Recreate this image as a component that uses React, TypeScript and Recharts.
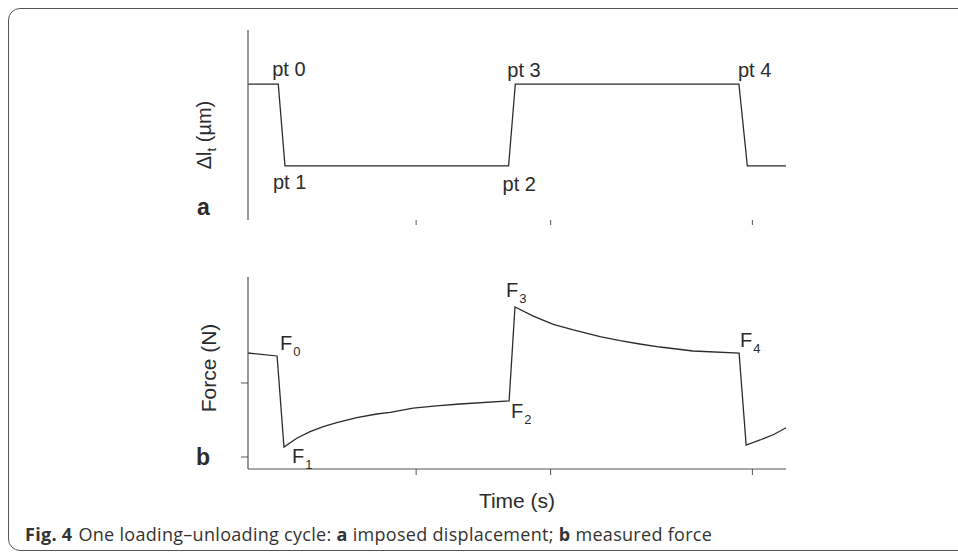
import React from "react";
import { LineChart, Line, XAxis, YAxis, LabelList, Label } from "recharts";

// time axis (s) and force axis ticks
const timeTicks = [10, 18, 30];
const forceTicks = [10, 20];

// panel a: imposed displacement
const dispTime = [0, 1.8, 2.2, 15.5, 15.9, 29.2, 29.7, 32];
const dispValue = [1, 1, 0, 0, 1, 1, 0, 0];
const dispLabels = [null, "pt 0", "pt 1", "pt 2", "pt 3", "pt 4", null, null];

// panel b: measured force
const forceTime = [
    0, 1.73, 2.14, 2.9, 3.69, 4.48, 5.28, 6.47, 7.66, 8.45, 9.82, 11.2, 12.61,
    15.53, 15.88, 17.0, 18.16, 19.35, 20.94, 22.13, 23.3, 24.51, 26.47, 29.21,
    29.63, 30.46, 31.3, 32,
];
const forceValue = [
    24.05, 23.65, 11.35, 12.53, 13.42, 14.09, 14.64, 15.31, 15.81, 16.04,
    16.6, 16.92, 17.16, 17.57, 30.27, 29.0, 27.93, 27.16, 26.26, 25.72, 25.27,
    24.86, 24.32, 24.05, 11.62, 12.3, 13.07, 13.96,
];
const forceLabels = [
    null, "0", "1", null, null, null, null, null, null, null, null, null, null,
    "2", "3", null, null, null, null, null, null, null, null, "4", null, null,
    null, null,
];

const dispData = dispTime.map((t, i) => ({
    t,
    d: dispValue[i],
    label: dispLabels[i],
}));
const forceData = forceTime.map((t, i) => ({
    t,
    f: forceValue[i],
    label: forceLabels[i],
}));

const FONT = "'Liberation Sans', Arial, sans-serif";
const INK = "#2b2b2b";
const AXIS = "#555";

const ptOffset: Record<string, [number, number]> = {
    "pt 0": [-6, -8],
    "pt 1": [-12, 23],
    "pt 2": [-6, 25],
    "pt 3": [-8, -7],
    "pt 4": [-1, -7],
};
const fOffset: Record<string, [number, number]> = {
    "0": [3, -6],
    "1": [8, 16],
    "2": [2, 17],
    "3": [-9, -10],
    "4": [1, -6],
};

// keeps the tick marks but draws no tick text
const NoTick = () => <g />;

const PtLabel = (props: any) => {
    const { x, y, value } = props;
    if (!value || !ptOffset[value]) return null;
    const [dx, dy] = ptOffset[value];
    return (
        <text x={x + dx} y={y + dy} fontSize={20} fontFamily={FONT} fill={INK}>
            {value}
        </text>
    );
};

const FLabel = (props: any) => {
    const { x, y, value } = props;
    if (value == null || !fOffset[value]) return null;
    const [dx, dy] = fOffset[value];
    return (
        <text x={x + dx} y={y + dy} fontSize={20} fontFamily={FONT} fill={INK}>
            F
            <tspan dx={1} dy={6} fontSize={13}>
                {value}
            </tspan>
        </text>
    );
};

const DispTitle = (props: any) => {
    const { x, y, width, height } = props.viewBox;
    const cx = x + width - 37;
    const cy = y + height / 2 + 10;
    return (
        <text
            x={cx}
            y={cy}
            transform={`rotate(-90 ${cx} ${cy})`}
            textAnchor="middle"
            fontSize={20}
            fontFamily={FONT}
            fill={INK}
        >
            Δl
            <tspan dy={5} fontSize={13}>
                t
            </tspan>
            <tspan dy={-5}> (µm)</tspan>
        </text>
    );
};

const ForceTitle = (props: any) => {
    const { x, y, width, height } = props.viewBox;
    const cx = x + width - 32;
    const cy = y + height / 2 - 5;
    return (
        <text
            x={cx}
            y={cy}
            transform={`rotate(-90 ${cx} ${cy})`}
            textAnchor="middle"
            fontSize={21}
            fontFamily={FONT}
            fill={INK}
        >
            Force (N)
        </text>
    );
};

const TimeTitle = (props: any) => {
    const { x, y, width } = props.viewBox;
    return (
        <text
            x={x + width / 2}
            y={y + 39}
            textAnchor="middle"
            fontSize={21}
            fontFamily={FONT}
            fill={INK}
        >
            Time (s)
        </text>
    );
};

export default function App() {
    return (
        <div
            style={{
                position: "absolute",
                left: 0,
                top: 0,
                width: 958,
                height: 552,
                overflow: "hidden",
                background: "#fff",
            }}
        >
            <div
                style={{
                    position: "absolute",
                    left: 8,
                    top: 8,
                    width: 1000,
                    height: 543,
                    boxSizing: "border-box",
                    border: "1.5px solid #555",
                    borderRadius: 12,
                }}
            />
            <div style={{ position: "absolute", left: 0, top: 0 }}>
                <LineChart
                    width={958}
                    height={260}
                    data={dispData}
                    margin={{ top: 30, right: 172, bottom: 10, left: 188 }}
                >
                    <XAxis
                        type="number"
                        dataKey="t"
                        domain={[0, 32]}
                        ticks={timeTicks}
                        axisLine={false}
                        tick={NoTick}
                        tickLine={{ stroke: AXIS }}
                        tickSize={5}
                        height={30}
                    />
                    <YAxis
                        type="number"
                        domain={[-0.66, 1.66]}
                        allowDataOverflow
                        axisLine={{ stroke: AXIS, strokeWidth: 1.2 }}
                        tick={false}
                        tickLine={false}
                        width={60}
                    >
                        <Label content={DispTitle} />
                    </YAxis>
                    <Line
                        type="linear"
                        dataKey="d"
                        stroke={INK}
                        strokeWidth={1.3}
                        dot={false}
                        isAnimationActive={false}
                    >
                        <LabelList dataKey="label" content={PtLabel} />
                    </Line>
                </LineChart>
            </div>
            <div style={{ position: "absolute", left: 0, top: 240 }}>
                <LineChart
                    width={958}
                    height={290}
                    data={forceData}
                    margin={{ top: 37, right: 172, bottom: 31, left: 188 }}
                >
                    <XAxis
                        type="number"
                        dataKey="t"
                        domain={[0, 32]}
                        ticks={timeTicks}
                        axisLine={{ stroke: AXIS, strokeWidth: 1.2 }}
                        tick={NoTick}
                        tickLine={{ stroke: AXIS }}
                        tickSize={6}
                        height={30}
                    >
                        <Label content={TimeTitle} />
                    </XAxis>
                    <YAxis
                        type="number"
                        domain={[8.38, 34.32]}
                        allowDataOverflow
                        ticks={forceTicks}
                        axisLine={{ stroke: AXIS, strokeWidth: 1.2 }}
                        tick={NoTick}
                        tickLine={{ stroke: AXIS }}
                        tickSize={7}
                        width={60}
                    >
                        <Label content={ForceTitle} />
                    </YAxis>
                    <Line
                        type="linear"
                        dataKey="f"
                        stroke={INK}
                        strokeWidth={1.3}
                        dot={false}
                        isAnimationActive={false}
                    >
                        <LabelList dataKey="label" content={FLabel} />
                    </Line>
                </LineChart>
            </div>
            <svg
                width={958}
                height={552}
                style={{ position: "absolute", left: 0, top: 0, pointerEvents: "none" }}
            >
                <text x={197} y={215} fontSize={23} fontWeight="bold" fontFamily={FONT} fill={INK}>
                    a
                </text>
                <text x={196} y={465} fontSize={23} fontWeight="bold" fontFamily={FONT} fill={INK}>
                    b
                </text>
                <text
                    x={25}
                    y={541}
                    fontSize={18}
                    letterSpacing={0.3}
                    fontFamily="'Open Sans', 'Noto Sans', sans-serif"
                    fill="#333"
                >
                    <tspan fontWeight="bold">Fig. 4</tspan>
                    <tspan dx={6}>One loading–unloading cycle: </tspan>
                    <tspan fontWeight="bold">a</tspan>
                    <tspan> imposed displacement; </tspan>
                    <tspan fontWeight="bold">b</tspan>
                    <tspan> measured force</tspan>
                </text>
            </svg>
        </div>
    );
}
